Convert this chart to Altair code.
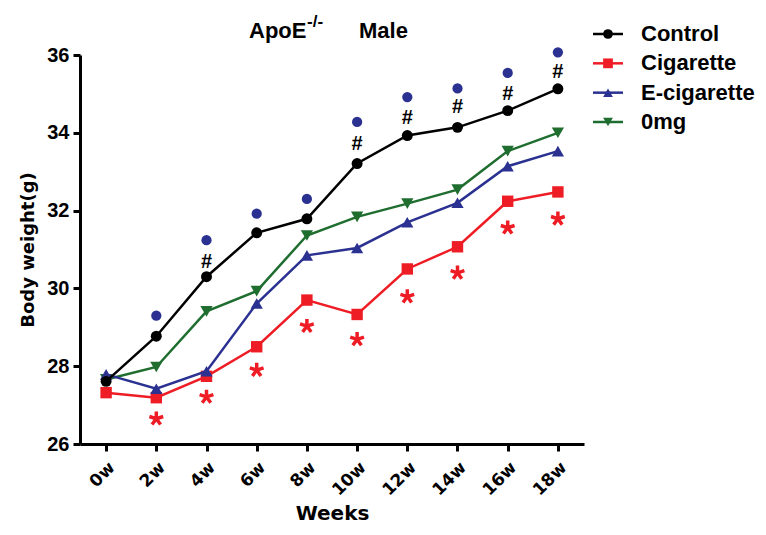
import altair as alt
import pandas as pd

weeks = ["0w", "2w", "4w", "6w", "8w", "10w", "12w", "14w", "16w", "18w"]
series_names = ["Control", "Cigarette", "E-cigarette", "0mg"]
series_colors = ["#000000", "#ee1c24", "#2b3190", "#1f6e30"]
series_shapes = ["circle", "square", "triangle-up", "triangle-down"]

control = [27.61, 28.77, 30.30, 31.43, 31.79, 33.21, 33.93, 34.14, 34.57, 35.13]
cigarette = [27.32, 27.19, 27.74, 28.50, 29.70, 29.33, 30.50, 31.07, 32.24, 32.48]
ecig = [27.79, 27.42, 27.87, 29.61, 30.85, 31.04, 31.70, 32.20, 33.14, 33.53]
zero_mg = [27.66, 27.98, 29.41, 29.93, 31.36, 31.84, 32.18, 32.54, 33.53, 34.00]

dot_weeks = ["2w", "4w", "6w", "8w", "10w", "12w", "14w", "16w", "18w"]
dot_vals = [29.30, 31.24, 31.92, 32.30, 34.28, 34.92, 35.14, 35.54, 36.07]
hash_weeks = ["4w", "10w", "12w", "14w", "16w", "18w"]
hash_vals = [30.70, 33.74, 34.41, 34.68, 35.03, 35.58]
star_weeks = ["2w", "4w", "6w", "8w", "10w", "12w", "14w", "16w", "18w"]
star_vals = [26.65, 27.21, 27.90, 29.03, 28.69, 29.79, 30.40, 31.56, 31.79]

values = {"Control": control, "Cigarette": cigarette, "E-cigarette": ecig, "0mg": zero_mg}
rows = []
for s in series_names:
    for w, v in zip(weeks, values[s]):
        rows.append({"series": s, "week": w, "value": v})
df = pd.DataFrame(rows)

color_scale = alt.Scale(domain=series_names, range=series_colors)
shape_scale = alt.Scale(domain=series_names, range=series_shapes)
x_enc = alt.X("week:O", sort=weeks, scale=alt.Scale(type="point", padding=0.52),
              axis=alt.Axis(title="Weeks", labelAngle=315))
y_scale = alt.Scale(domain=[26, 36], nice=False, zero=False)
y_enc = alt.Y("value:Q", scale=y_scale,
              axis=alt.Axis(title="Body weight(g)", values=[26, 28, 30, 32, 34, 36]))

layers = []
draw_order = ["Cigarette", "0mg", "E-cigarette", "Control"]
sizes = {"Control": 120, "Cigarette": 130, "E-cigarette": 150, "0mg": 150}
for s in draw_order:
    sub = df[df.series == s]
    base = alt.Chart(sub)
    layers.append(base.mark_line(strokeWidth=2.5).encode(
        x=x_enc, y=y_enc, color=alt.Color("series:N", scale=color_scale, legend=None)))
    layers.append(base.mark_point(filled=True, opacity=1, size=sizes[s]).encode(
        x=x_enc, y=y_enc,
        color=alt.Color("series:N", scale=color_scale, legend=None),
        shape=alt.Shape("series:N", scale=shape_scale, legend=None)))

dots = pd.DataFrame({"week": dot_weeks, "value": dot_vals})
layers.append(alt.Chart(dots).mark_point(filled=True, opacity=1, shape="circle", size=105,
                                         color="#2b3190").encode(x=x_enc, y=y_enc))
hashes = pd.DataFrame({"week": hash_weeks, "value": hash_vals})
layers.append(alt.Chart(hashes).mark_text(text="#", font="Liberation Sans", fontWeight="bold",
                                          fontSize=20, baseline="alphabetic", dy=7,
                                          color="#000000").encode(x=x_enc, y=y_enc))
stars = pd.DataFrame({"week": star_weeks, "value": star_vals})
asterisk = "M0,-1L0,0L0.95,-0.31M0,0L0.59,0.81M0,0L-0.59,0.81M0,0L-0.95,-0.31"
layers.append(alt.Chart(stars).mark_point(shape=asterisk, filled=False, opacity=1, size=210,
                                          strokeWidth=3.5, color="#ee1c24").encode(x=x_enc, y=y_enc))

# title with superscript
one = pd.DataFrame({"k": [0]})
title_font = dict(font="Liberation Sans", fontWeight="bold", baseline="alphabetic", align="left",
                  color="#000000")
layers.append(alt.Chart(one).mark_text(text="ApoE", fontSize=22, **title_font).encode(
    x=alt.value(169), y=alt.value(-17)))
layers.append(alt.Chart(one).mark_text(text="-/-", fontSize=17, **title_font).encode(
    x=alt.value(227), y=alt.value(-28)))
layers.append(alt.Chart(one).mark_text(text="Male", fontSize=22, **title_font).encode(
    x=alt.value(279), y=alt.value(-17)))

main = alt.layer(*layers)

# legend
leg = pd.DataFrame({"series": series_names})
leg_y = alt.Y("series:N", scale=alt.Scale(type="point", domain=series_names,
                                          range=[-21, 67], padding=0), axis=None)
leg_base = alt.Chart(leg)
leg_lines = leg_base.mark_rule(strokeWidth=2.5).encode(
    x=alt.value(513), x2=alt.value(543), y=leg_y,
    color=alt.Color("series:N", scale=color_scale, legend=None))
leg_pts = leg_base.mark_point(filled=True, opacity=1, size=95).encode(
    x=alt.value(528), y=leg_y,
    color=alt.Color("series:N", scale=color_scale, legend=None),
    shape=alt.Shape("series:N", scale=shape_scale, legend=None))
leg_text = leg_base.mark_text(font="Liberation Sans", fontWeight="bold", fontSize=22,
                              align="left", baseline="middle", color="#000000").encode(
    x=alt.value(561), y=leg_y, text="series:N")
legend = alt.layer(leg_lines, leg_pts, leg_text)

chart = alt.layer(main, legend).resolve_scale(y="independent").properties(
    width=504, height=389,
    autosize=alt.AutoSizeParams(type="none"),
    padding={"left": 72, "top": 47, "right": 174, "bottom": 83},
).configure_view(stroke=None).configure_axis(
    grid=False, domainColor="#000000", domainWidth=3, tickColor="#000000", tickWidth=3,
    tickSize=7, labelColor="#000000",
).configure_axisY(
    labelFont="Liberation Sans", labelFontWeight="bold", labelFontSize=20, labelPadding=4,
    titleFont="DejaVu Sans", titleFontWeight="bold", titleFontSize=18, titlePadding=9,
    titleColor="#000000",
).configure_axisX(
    labelFont="DejaVu Sans", labelFontWeight="bold", labelFontSize=17, labelPadding=8,
    titleFont="DejaVu Sans", titleFontWeight="bold", titleFontSize=20, titlePadding=5,
    titleColor="#000000",
)

chart.save("out.html", embed_options={"renderer": "svg", "actions": False})
